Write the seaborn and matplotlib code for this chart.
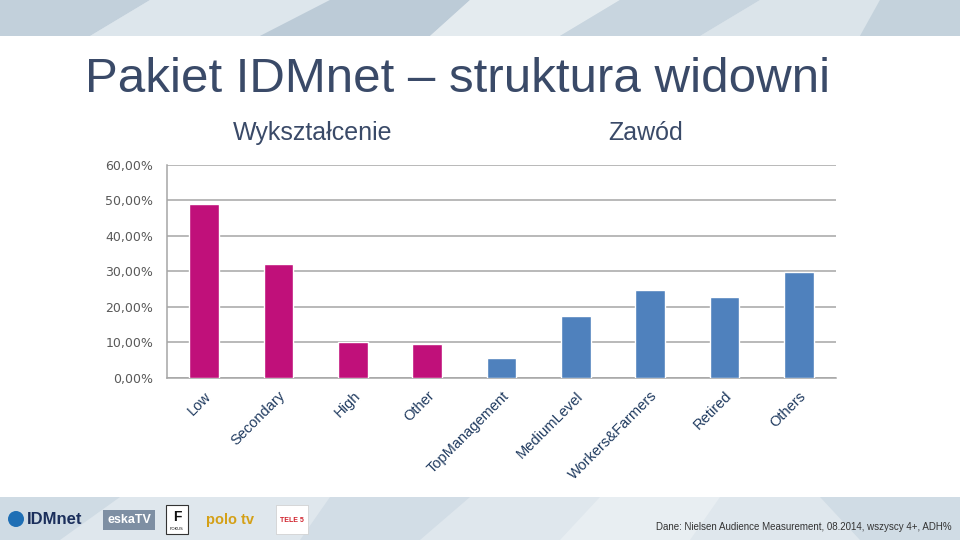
import matplotlib
matplotlib.use("Agg")
import matplotlib.pyplot as plt
import seaborn as sns
import pandas as pd
import numpy as np
from matplotlib.patches import Polygon, Rectangle, Circle

categories = ["Low", "Secondary", "High", "Other", "TopManagement",
              "MediumLevel", "Workers&Farmers", "Retired", "Others"]
values = [48.8, 32.0, 10.0, 9.5, 5.5, 17.3, 24.6, 22.6, 29.9]
groups = ["Wykształcenie"] * 4 + ["Zawód"] * 5
group_titles = ["Wykształcenie", "Zawód"]
yticks = [0, 10, 20, 30, 40, 50, 60]
title = "Pakiet IDMnet – struktura widowni"
source = "Dane: Nielsen Audience Measurement, 08.2014, wszyscy 4+, ADH%"

df = pd.DataFrame({"cat": categories, "val": values, "grp": groups})

sns.set_theme(style="white")
plt.rcParams['font.family'] = ['DejaVu Sans']
LIB = ["Liberation Sans", "DejaVu Sans"]

fig = plt.figure(figsize=(9.6, 5.4), dpi=100)

# background decorations
bg = fig.add_axes([0, 0, 1, 1], zorder=-10)
bg.set_xlim(0, 960)
bg.set_ylim(540, 0)
bg.axis("off")
bg.add_patch(Rectangle((0, 0), 960, 36, color="#d3dee6", lw=0))
top_polys = [
    ([(0, 0), (150, 0), (90, 36), (0, 36)], "#c2d0db"),
    ([(150, 0), (330, 0), (260, 36), (90, 36)], "#dde6ec"),
    ([(330, 0), (470, 0), (430, 36), (260, 36)], "#bccbd7"),
    ([(470, 0), (620, 0), (560, 36), (430, 36)], "#e4ebef"),
    ([(620, 0), (760, 0), (700, 36), (560, 36)], "#c8d5df"),
    ([(760, 0), (880, 0), (860, 36), (700, 36)], "#dbe4ea"),
    ([(880, 0), (960, 0), (960, 36), (860, 36)], "#c4d2dc"),
]
for pts, c in top_polys:
    bg.add_patch(Polygon(pts, closed=True, color=c, lw=0))
bg.add_patch(Rectangle((0, 497), 960, 43, color="#dfe7ed", lw=0))
bot_polys = [
    ([(0, 497), (120, 497), (60, 540), (0, 540)], "#cfdbe4"),
    ([(330, 497), (470, 497), (420, 540), (300, 540)], "#d2dde6"),
    ([(600, 497), (720, 497), (690, 540), (560, 540)], "#e8eef2"),
    ([(820, 497), (960, 497), (960, 540), (860, 540)], "#d0dce5"),
]
for pts, c in bot_polys:
    bg.add_patch(Polygon(pts, closed=True, color=c, lw=0))

# pseudo logos (text)
bg.add_patch(Circle((16, 519), 8, color="#1f6fb5", lw=0))
bg.text(27, 520, "IDMnet", fontsize=12, fontweight="bold", color="#1b2f5c",
        va="center", ha="left", family=LIB)
bg.add_patch(Rectangle((103, 510), 52, 20, color="#7e8fa3", lw=0))
bg.text(129, 520, "eskaTV", fontsize=9, fontweight="bold", color="white",
        va="center", ha="center", family=LIB)
bg.add_patch(Rectangle((166, 505), 22, 29, facecolor="white", edgecolor="#333333", lw=0.8))
bg.text(177, 517, "F", fontsize=10, fontweight="bold", color="#111111",
        va="center", ha="center", family=LIB)
bg.text(177, 529, "FOKUS", fontsize=3, color="#111111", va="center", ha="center")
bg.text(206, 520, "polo tv", fontsize=10.5, fontweight="bold", color="#d4a017",
        va="center", ha="left", family=LIB)
bg.add_patch(Rectangle((276, 505), 32, 29, facecolor="white", edgecolor="#cccccc", lw=0.5))
bg.text(292, 520, "TELE 5", fontsize=5, fontweight="bold", color="#d0202a",
        va="center", ha="center", family=LIB)

# title and group titles
fig.text(85 / 960, 1 - 92 / 540, title, fontsize=35.5, color="#3a4a68",
         family=LIB, ha="left", va="baseline")
fig.text(313 / 960, 1 - 133 / 540, group_titles[0], fontsize=18, color="#3a4a68",
         family=LIB, ha="center", va="center")
fig.text(646 / 960, 1 - 133 / 540, group_titles[1], fontsize=18, color="#3a4a68",
         family=LIB, ha="center", va="center")
fig.text(952 / 960, 1 - 527 / 540, source, fontsize=7, color="#333333",
         family=LIB, ha="right", va="center")

# chart
ax = fig.add_axes([167 / 960, 1 - 377.7 / 540, (836 - 167) / 960, (377.7 - 164.7) / 540])
palette = {"Wykształcenie": "#c0107a", "Zawód": "#4f81bd"}
sns.barplot(data=df, x="cat", y="val", hue="grp", palette=palette, dodge=False,
            width=0.4, ax=ax, legend=False, saturation=1, zorder=3)
ax.set_xlim(-0.5, len(categories) - 0.5)
ax.set_ylim(0, 60)
ax.set_yticks(yticks)
ax.set_yticklabels([f"{v:.2f}%".replace(".", ",") for v in yticks],
                   fontsize=9, color="#595959")
ax.set_xticks(range(len(categories)))
ax.set_xticklabels(categories, rotation=45, ha="right", rotation_mode="anchor",
                   fontsize=10.5, color="#1f3a5f", family=LIB)
ax.set_xticks(np.arange(-0.5, len(categories)), minor=True)
ax.tick_params(axis="x", which="major", length=0, pad=8)
ax.tick_params(axis="x", which="minor", length=5, color="#a6a6a6", width=1, direction="out")
ax.tick_params(axis="y", length=4, color="#a6a6a6", width=1, direction="out", pad=6)
ax.set_xlabel("")
ax.set_ylabel("")
ax.grid(axis="y", color="#a6a6a6", linewidth=1.1, zorder=0)
ax.set_axisbelow(True)
for s in ["top", "right"]:
    ax.spines[s].set_visible(False)
for s in ["left", "bottom"]:
    ax.spines[s].set_color("#a6a6a6")
    ax.spines[s].set_linewidth(1.1)
ax.patch.set_alpha(0)

fig.savefig("out.png", dpi=100)
